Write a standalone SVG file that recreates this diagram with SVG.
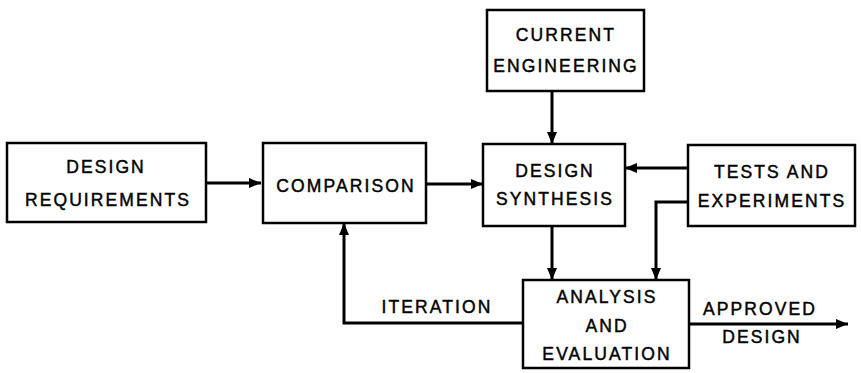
<svg xmlns="http://www.w3.org/2000/svg" width="861" height="373" viewBox="0 0 861 373">
<style>
.box{fill:#fff;stroke:#000;stroke-width:2.5}
.t{font-family:"Liberation Sans",Arial,sans-serif;font-size:17.5px;letter-spacing:2.1px;text-anchor:middle;fill:#000;stroke:#000;stroke-width:0.45}
.c{fill:none;stroke:#000;stroke-width:3}
</style>
<defs>
<marker id="ah" viewBox="0 0 12 10" refX="12" refY="5" markerWidth="12" markerHeight="10" markerUnits="userSpaceOnUse" orient="auto">
<path d="M0,0 L12,5 L0,10 Z" fill="#000"/>
</marker>
</defs>
<rect width="861" height="373" fill="#fff"/>
<g id="connectors">
<path class="c" d="M206,183 H261" marker-end="url(#ah)"/>
<path class="c" d="M426,184 H483" marker-end="url(#ah)"/>
<path class="c" d="M552,91 V144" marker-end="url(#ah)"/>
<path class="c" d="M688,168 H625" marker-end="url(#ah)"/>
<path class="c" d="M688,202 H656 V280" marker-end="url(#ah)"/>
<path class="c" d="M552,226 V280" marker-end="url(#ah)"/>
<path class="c" d="M523,323 H344 V223" marker-end="url(#ah)"/>
<path class="c" d="M689,324 H848" marker-end="url(#ah)"/>
<text class="t" x="437" y="313">ITERATION</text>
<text class="t" x="760" y="315">APPROVED</text>
<text class="t" x="762" y="343">DESIGN</text>
</g>
<g id="design-requirements">
<rect class="box" x="7" y="143" width="199" height="79"/>
<text class="t" x="106" y="173">DESIGN</text>
<text class="t" x="108" y="206">REQUIREMENTS</text>
</g>
<g id="comparison">
<rect class="box" x="263" y="143" width="163" height="80"/>
<text class="t" x="346" y="192">COMPARISON</text>
</g>
<g id="current-engineering">
<rect class="box" x="487" y="10" width="157" height="81"/>
<text class="t" x="566" y="41">CURRENT</text>
<text class="t" x="566" y="72">ENGINEERING</text>
</g>
<g id="design-synthesis">
<rect class="box" x="483" y="144" width="142" height="82"/>
<text class="t" x="555" y="177">DESIGN</text>
<text class="t" x="555" y="205">SYNTHESIS</text>
</g>
<g id="tests-and-experiments">
<rect class="box" x="688" y="145" width="167" height="81"/>
<text class="t" x="772" y="178">TESTS AND</text>
<text class="t" x="772" y="207">EXPERIMENTS</text>
</g>
<g id="analysis-and-evaluation">
<rect class="box" x="523" y="280" width="166" height="88"/>
<text class="t" x="607" y="303">ANALYSIS</text>
<text class="t" x="607" y="332">AND</text>
<text class="t" x="607" y="360">EVALUATION</text>
</g>
</svg>
